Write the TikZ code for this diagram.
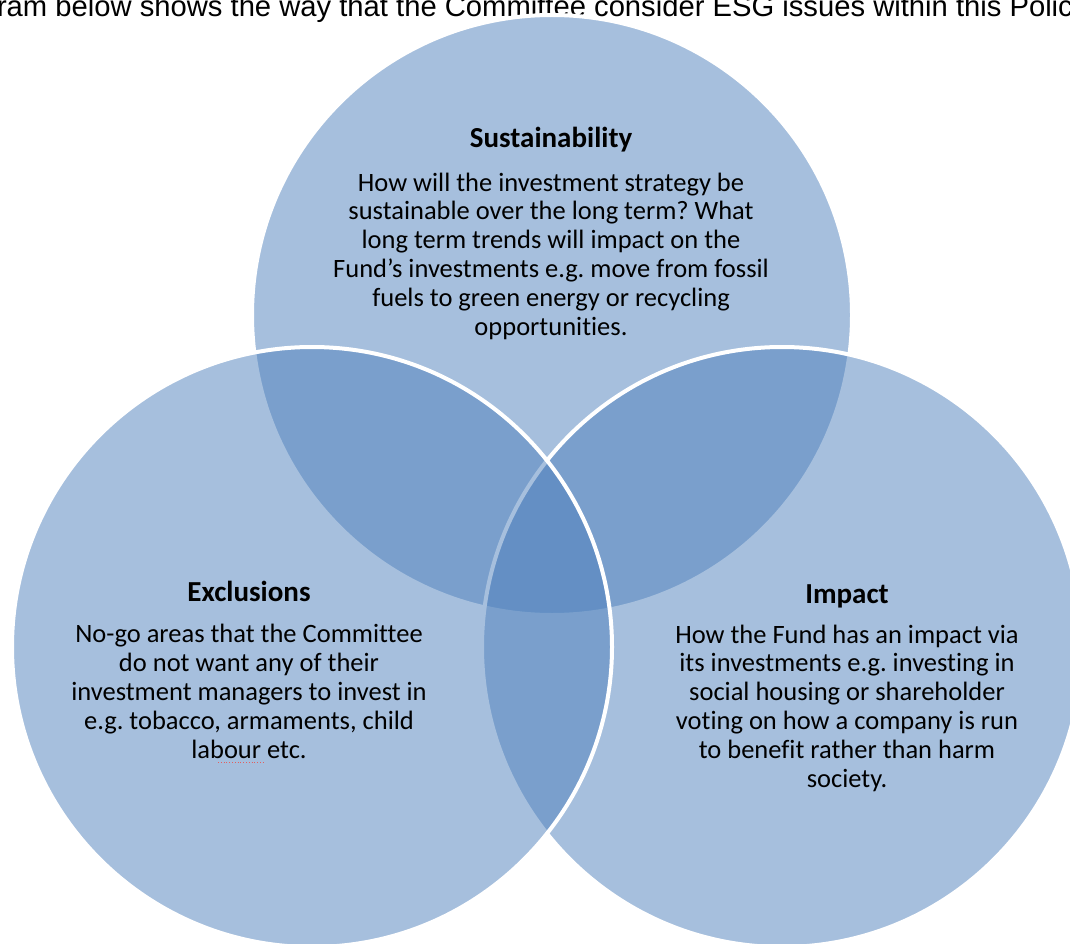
\documentclass[tikz,border=0pt]{standalone}
\usepackage{fontspec}
\setmainfont{Carlito}[Ligatures=NoCommon]
\newfontfamily\arialfont{Liberation Sans}
\definecolor{vennblue}{HTML}{4F81BD}
\definecolor{spellred}{HTML}{E06060}
\frenchspacing
\begin{document}
\begin{tikzpicture}[x=1pt,y=-1pt,
  circ/.style={fill=vennblue,fill opacity=0.5,draw=white,line width=4pt},
  ttl/.style={font=\bfseries\fontsize{29}{32}\selectfont,anchor=base,inner sep=0pt,text=black},
  bodytext/.style={font=\fontsize{26.5}{28.8}\selectfont,align=center,anchor=base,inner sep=0pt,text=black}]
\useasboundingbox (0,0) rectangle (1070,944);
\clip (0,0) rectangle (1070,944);
\fill[white] (0,0) rectangle (1070,944);
\node[font=\arialfont\fontsize{29.2}{32}\selectfont,anchor=base,inner sep=0pt,text=black] (caption) at (535,17)
  {ram below shows the way that the Committee consider ESG issues within this Polic};
% circles: top, right, left
\draw[circ] (552,315) circle[radius=300];
\draw[circ] (782,647) circle[radius=300];
\draw[circ] (312,647) circle[radius=300];
% texts (anchor base = baseline of the last line)
\node[ttl] (sustitle) at (551,148) {Sustainability};
\node[bodytext] (sustext) at (551,335) {How will the investment strategy be\\
sustainable over the long term? What\\
long term trends will impact on the\\
Fund’s investments e.g. move from fossil\\
fuels to green energy or recycling\\
opportunities.};
\node[ttl] (exctitle) at (249,601) {Exclusions};
\node[bodytext] (exctext) at (249,758) {No-go areas that the Committee\\
do not want any of their\\
investment managers to invest in\\
e.g. tobacco, armaments, child\\
labour etc.};
\node[ttl] (imptitle) at (847,603) {Impact};
\node[bodytext] (imptext) at (847,787) {How the Fund has an impact via\\
its investments e.g. investing in\\
social housing or shareholder\\
voting on how a company is run\\
to benefit rather than harm\\
society.};
\coordinate (spellA) at (218,762);
\coordinate (spellB) at (263,762);
\draw[spellred,line width=0.8pt,dotted] (spellA) -- (spellB);
\end{tikzpicture}
\end{document}
